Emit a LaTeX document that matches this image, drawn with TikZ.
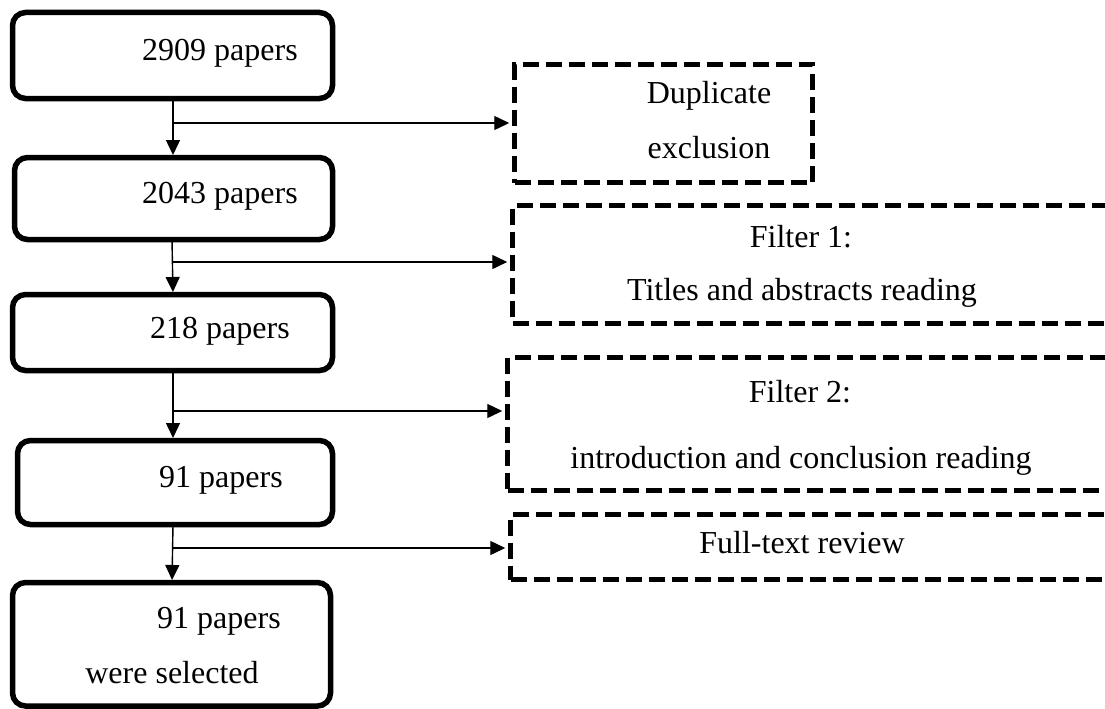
\documentclass[tikz,border=0pt]{standalone}
\usepackage{fontspec}
\setmainfont{Liberation Serif}
\usetikzlibrary{arrows.meta}
\begin{document}
\begin{tikzpicture}[x=1pt,y=-1pt,
  solidbox/.style={draw, line width=5.5pt, rounded corners=13pt, inner sep=0pt},
  dashbox/.style={draw, line width=5.5pt, dash pattern=on 16pt off 7pt, inner sep=0pt},
  lbl/.style={anchor=base, inner sep=0pt, font=\fontsize{32}{38}\selectfont},
  conn/.style={line width=1.4pt, -{Triangle[length=15pt,width=14pt]}, shorten >=2.5pt}]
\useasboundingbox (0,0) rectangle (1105,709);

% solid boxes
\node[solidbox, minimum width=320pt, minimum height=86pt] (b1) at (172.5,55.5) {};
\node[solidbox, minimum width=318pt, minimum height=82pt] (b2) at (173.5,198.5) {};
\node[solidbox, minimum width=320pt, minimum height=76pt] (b3) at (172.5,332.5) {};
\node[solidbox, minimum width=315pt, minimum height=84pt] (b4) at (175,482.5) {};
\node[solidbox, minimum width=318pt, minimum height=123.5pt] (b5) at (171.5,644.25) {};

% dashed boxes
\node[dashbox, minimum width=298pt, minimum height=118pt] (d1) at (663.5,123.5) {};
\node[dashbox, minimum width=595pt, minimum height=118pt] (d2) at (810,264.5) {};
\node[dashbox, minimum width=600.5pt, minimum height=133pt] (d3) at (807.75,424) {};
\node[dashbox, minimum width=597.5pt, minimum height=65pt] (d4) at (809.25,547) {};

% texts
\node[lbl] (t1) at (220,60) {2909 papers};
\node[lbl] (t2) at (220,203) {2043 papers};
\node[lbl] (t3) at (220,338) {218 papers};
\node[lbl] (t4) at (221,487) {91 papers};
\node[lbl] (t5a) at (219,628) {91 papers};
\node[lbl] (t5b) at (172,683) {were selected};
\node[lbl] (u1a) at (709,103) {Duplicate};
\node[lbl] (u1b) at (709,158) {exclusion};
\node[lbl] (u2a) at (801,247) {Filter 1:};
\node[lbl] (u2b) at (802,300) {Titles and abstracts reading};
\node[lbl] (u3a) at (800,402) {Filter 2:};
\node[lbl] (u3b) at (801,468) {introduction and conclusion reading};
\node[lbl] (u4) at (802,553) {Full-text review};

% vertical connectors
\coordinate (s1) at (173,98.5);  \coordinate (e1) at (173,157.5);
\coordinate (s2) at (172,239.5); \coordinate (e2) at (173,294.5);
\coordinate (s3) at (173,370.5); \coordinate (e3) at (173,440.5);
\coordinate (s4) at (173,524.5); \coordinate (e4) at (172,582.5);
\draw[conn] (s1) -- (e1);
\draw[conn] (s2) -- (e2);
\draw[conn] (s3) -- (e3);
\draw[conn] (s4) -- (e4);

% branches
\coordinate (j1) at (173,123);
\coordinate (j2) at (173,262);
\coordinate (j3) at (173,411);
\coordinate (j4) at (173,548);
\draw[conn] (j1) -- (j1 -| d1.west);
\draw[conn] (j2) -- (j2 -| d2.west);
\draw[conn] (j3) -- (j3 -| d3.west);
\draw[conn] (j4) -- (j4 -| d4.west);
\end{tikzpicture}
\end{document}
